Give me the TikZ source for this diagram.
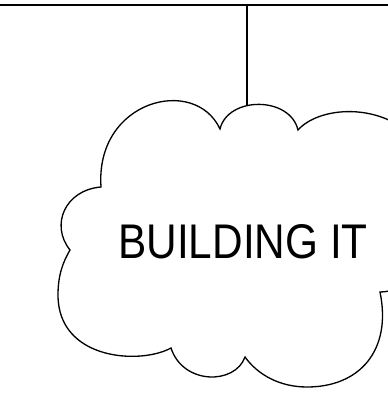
\documentclass[tikz,border=0pt]{standalone}
\usepackage{fontspec}
\newfontfamily\cloudfont{Liberation Sans}[FakeStretch=0.87]
\tikzset{cloudline/.style={line width=0.75pt,line join=miter}}

\begin{document}
\begin{tikzpicture}[x=0.02cm,y=-0.02cm]
    \useasboundingbox (0,0) rectangle (388,393);
    \clip (0,0) rectangle (388,393);
    % hanging line
    \coordinate (barL) at (0,5);
    \coordinate (barR) at (388,5);
    \coordinate (hang) at (247,5);
    \coordinate (cloudtop) at (247,105);
    \draw[cloudline] (barL)--(barR);
    \draw[cloudline] (hang)--(cloudtop);
    % the cloud
    \draw[cloudline,fill=white] (101,187)
        .. controls (95,100) and (195,75) .. (220,129)
        .. controls (228,96) and (290,96) .. (298,130)
        .. controls (320,105) and (390,100) .. (425,150)
        .. controls (460,200) and (430,292) .. (380,292)
        .. controls (392,350) and (360,387) .. (307,387)
        .. controls (280,387) and (258,375) .. (245,357)
        .. controls (235,385) and (183,385) .. (171,348)
        .. controls (140,365) and (58,360) .. (58,295)
        .. controls (58,275) and (63,262) .. (70,250)
        .. controls (50,225) and (65,190) .. (101,187) -- cycle;
    \node (label) at (243,241.5) {\cloudfont\fontsize{27.7}{30}\selectfont BUILDING IT};
\end{tikzpicture}
\end{document}
